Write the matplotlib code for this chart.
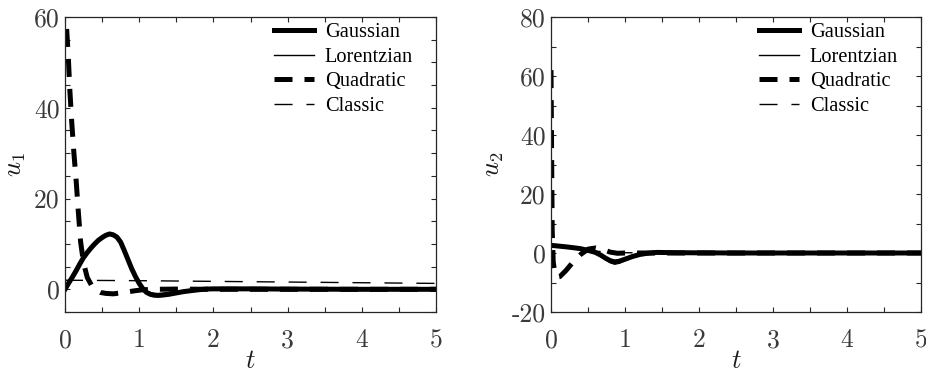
import numpy as np
import matplotlib
matplotlib.use("Agg")
import matplotlib.pyplot as plt
from matplotlib.ticker import MultipleLocator

plt.rcParams['mathtext.fontset'] = 'cm'

# ---------------- data ----------------
# left panel: u1
t_g1 = [0, 0.05, 0.1, 0.15, 0.2, 0.25, 0.3, 0.35, 0.4, 0.45, 0.5, 0.55, 0.6, 0.65, 0.7, 0.75,
        0.8, 0.85, 0.9, 0.95, 1.0, 1.05, 1.1, 1.15, 1.2, 1.25, 1.3, 1.4, 1.5, 1.6, 1.7, 1.8,
        1.9, 2.0, 2.5, 3.0, 4.0, 5.0]
u1_gauss = [0, 1.4, 2.7, 4.1, 5.6, 7.0, 8.1, 9.1, 10.0, 10.8, 11.4, 11.9, 12.2, 12.0, 11.5, 10.4,
            8.5, 6.5, 4.5, 2.8, 1.3, 0.1, -0.7, -1.1, -1.3, -1.35, -1.3, -1.1, -0.8, -0.5, -0.3, -0.1,
            0.05, 0.1, 0.1, 0.05, 0.0, 0.0]
t_l1 = [0, 0.05, 0.1, 0.15, 0.2, 0.25, 0.3, 0.35, 0.4, 0.45, 0.5, 0.55, 0.6, 0.65, 0.7, 0.75,
        0.8, 0.85, 0.9, 0.95, 1.0, 1.05, 1.1, 1.15, 1.2, 1.25, 1.3, 1.4, 1.5, 1.6, 1.7, 1.8,
        1.9, 2.0, 2.5, 3.0, 4.0, 5.0]
u1_lorentz = [0, 1.5, 2.8, 4.2, 5.7, 7.1, 8.2, 9.2, 10.1, 10.9, 11.6, 12.1, 12.4, 12.3, 11.8, 10.8,
              9.0, 7.0, 5.0, 3.2, 1.7, 0.5, -0.3, -0.7, -0.9, -0.95, -0.9, -0.7, -0.45, -0.25, -0.1, 0.0,
              0.1, 0.1, 0.1, 0.05, 0.0, 0.0]
t_q1 = [0, 0.02, 0.045, 0.065, 0.09, 0.12, 0.15, 0.18, 0.21, 0.25, 0.3, 0.36, 0.42, 0.48, 0.55,
        0.65, 0.75, 0.85, 0.95, 1.05, 1.2, 1.5, 2.0, 5.0]
u1_quad = [68, 58, 51, 44, 37, 30, 24, 17, 10.5, 5.8, 2.6, 0.8, -0.2, -0.7, -0.9,
           -1.0, -0.8, -0.55, -0.3, -0.1, 0.0, 0.05, 0.0, 0.0]
t_c1 = [0, 1, 2, 3, 4, 5]
u1_classic = [2.0, 1.9, 1.75, 1.6, 1.45, 1.3]

# right panel: u2
t_g2 = [0, 0.1, 0.2, 0.3, 0.39, 0.5, 0.6, 0.67, 0.74, 0.8, 0.86, 0.92, 1.0, 1.1, 1.2, 1.3,
        1.43, 1.7, 2.5, 5.0]
u2_gauss = [2.6, 2.35, 2.1, 1.8, 1.5, 0.9, 0.2, -0.7, -1.8, -2.6, -3.0, -2.8, -2.1, -1.2, -0.5, -0.1,
            0.2, 0.1, 0.0, 0.0]
t_l2 = [0, 0.1, 0.2, 0.3, 0.39, 0.5, 0.6, 0.67, 0.74, 0.8, 0.86, 0.92, 1.0, 1.1, 1.2, 1.3,
        1.43, 1.7, 2.5, 5.0]
u2_lorentz = [2.6, 2.3, 2.0, 1.7, 1.35, 0.7, -0.1, -1.1, -2.3, -3.3, -3.8, -3.5, -2.6, -1.6, -0.7, -0.2,
              0.2, 0.1, 0.0, 0.0]
t_q2 = [0, 0.008, 0.016, 0.03, 0.05, 0.08, 0.12, 0.2, 0.3, 0.4, 0.5, 0.6, 0.7, 0.8, 0.9, 1.0,
        1.3, 2.0, 5.0]
u2_quad = [62, 35, 8, -3, -6.5, -8.2, -8.0, -6.0, -3.0, -0.5, 1.3, 1.7, 1.2, 0.3, -0.1, 0.0,
           0.0, 0.0, 0.0]
t_c2 = [0, 0.3, 0.6, 1.0, 1.5, 5.0]
u2_classic = [2.5, 1.5, 0.6, 0.1, 0.0, 0.0]

legend_labels = ["Gaussian", "Lorentzian", "Quadratic", "Classic"]
xticks = [0, 1, 2, 3, 4, 5]
yticks1 = [0, 20, 40, 60]
yticks2 = [-20, 0, 20, 40, 60, 80]

# ---------------- figure ----------------
W, H = 926, 374
fig = plt.figure(figsize=(W / 100, H / 100), dpi=100)
axcol = '#262626'
txtcol = '#3a3a3a'

def make_ax(rect, ylim, yticks, yminor, ylabel, series):
    ax = fig.add_axes(rect)
    (tg, g), (tl, l), (tq, q), (tc, c) = series
    ax.plot(tg, g, color='black', lw=3.6, solid_joinstyle='round', label=legend_labels[0])
    ax.plot(tl, l, color='black', lw=1.0, label=legend_labels[1])
    ax.plot(tq, q, color='black', lw=3.6, dashes=(3.6, 2.4), label=legend_labels[2])
    ax.plot(tc, c, color='black', lw=1.0, dashes=(13, 10), label=legend_labels[3])
    ax.set_xlim(0, 5)
    ax.set_ylim(*ylim)
    ax.set_xticks(xticks)
    ax.set_xticklabels([str(v) for v in xticks], fontfamily='cmr10', fontsize=18.5, color=txtcol)
    ax.set_yticks(yticks)
    ax.set_yticklabels([str(v) for v in yticks], fontfamily='cmr10', fontsize=18.5, color=txtcol)
    ax.xaxis.set_minor_locator(MultipleLocator(0.5))
    ax.yaxis.set_minor_locator(MultipleLocator(yminor))
    ax.tick_params(which='both', direction='in', top=True, right=True, length=3.5,
                   width=0.8, color=axcol)
    ax.tick_params(axis='x', which='major', pad=12)
    ax.tick_params(axis='y', which='major', pad=4)
    for s in ax.spines.values():
        s.set_color(axcol)
        s.set_linewidth(0.9)
    ax.set_xlabel('$t$', fontsize=19, labelpad=-3, color='#1a1a1a')
    ax.set_ylabel(ylabel, fontsize=19, labelpad=4, color='#1a1a1a')
    ax.legend(loc='upper right', bbox_to_anchor=(0.949, 0.995), frameon=False,
              prop={'family': 'Liberation Serif', 'size': 14.7},
              handlelength=1.95, handletextpad=0.55, labelspacing=0.27,
              borderaxespad=0.0, borderpad=0.2)
    return ax

ax1 = make_ax([65 / W, 62 / H, 371 / W, 295 / H], (-5, 60), yticks1, 5, '$u_1$',
              [(t_g1, u1_gauss), (t_l1, u1_lorentz), (t_q1, u1_quad), (t_c1, u1_classic)])
ax2 = make_ax([551 / W, 62 / H, 370 / W, 295 / H], (-20, 80), yticks2, 10, '$u_2$',
              [(t_g2, u2_gauss), (t_l2, u2_lorentz), (t_q2, u2_quad), (t_c2, u2_classic)])

fig.savefig('out.png', dpi=100)
